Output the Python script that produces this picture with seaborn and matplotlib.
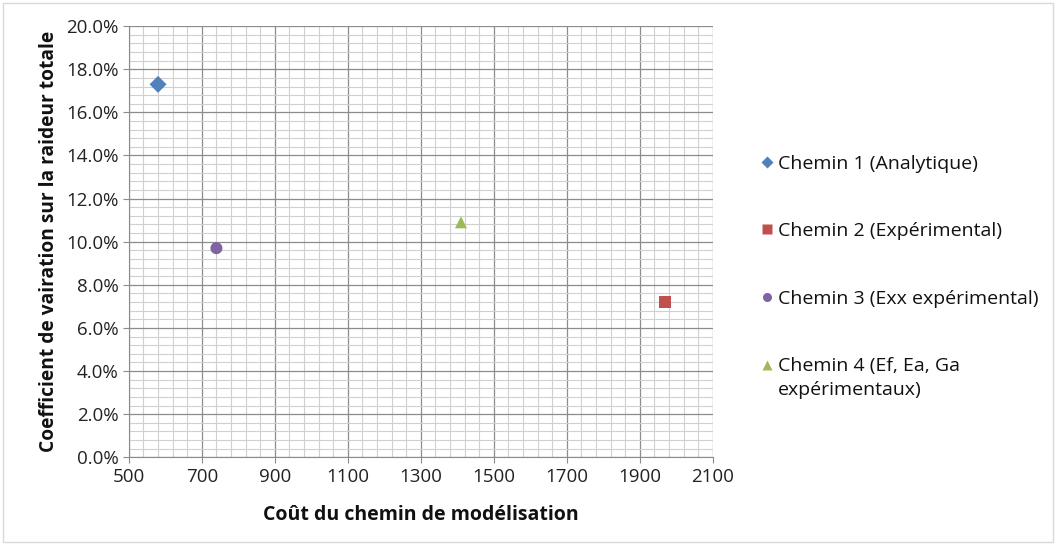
import numpy as np
import pandas as pd
import matplotlib
matplotlib.use("Agg")
import matplotlib.pyplot as plt
from matplotlib.ticker import FixedLocator, PercentFormatter
import seaborn as sns

labels = ["Chemin 1 (Analytique)", "Chemin 2 (Expérimental)",
          "Chemin 3 (Exx expérimental)", "Chemin 4 (Ef, Ea, Ga\nexpérimentaux)"]
cost = [580, 1970, 740, 1410]
cv = [17.3, 7.2, 9.7, 10.9]
colors = ["#4F81BD", "#C0504D", "#8064A2", "#9BBB59"]
markers = ["D", "s", "o", "^"]

df = pd.DataFrame({"chemin": labels, "cout": cost, "cv": cv})

sns.set_style("white")
plt.rcParams["font.family"] = ["Open Sans", "DejaVu Sans"]

fig = plt.figure(figsize=(10.56, 5.45), dpi=100)
ax = fig.add_axes([0.122, 0.161, 0.553, 0.791])

sns.scatterplot(data=df, x="cout", y="cv", hue="chemin", style="chemin",
                palette=dict(zip(labels, colors)), markers=dict(zip(labels, markers)),
                s=75, edgecolor="none", ax=ax, zorder=3)

ax.set_xlim(500, 2100)
ax.set_ylim(0, 20)
ax.xaxis.set_major_locator(FixedLocator(np.arange(500, 2101, 200)))
ax.xaxis.set_minor_locator(FixedLocator(np.arange(500, 2101, 40)))
ax.yaxis.set_major_locator(FixedLocator(np.arange(0, 20.1, 2)))
ax.yaxis.set_minor_locator(FixedLocator(np.arange(0, 20.1, 0.4)))
ax.yaxis.set_major_formatter(PercentFormatter(decimals=1))
ax.grid(True, which="major", color="#8c8c8c", linewidth=0.9)
ax.grid(True, which="minor", color="#d0d0d0", linewidth=0.8)
ax.set_axisbelow(True)
for side in ["top", "right"]:
    ax.spines[side].set_visible(False)
for side in ["left", "bottom"]:
    ax.spines[side].set_color("#8c8c8c")
ax.tick_params(axis="both", which="major", labelsize=13.5, colors="#222222",
               length=4, color="#8c8c8c", direction="out", bottom=True, left=True)
ax.tick_params(which="minor", length=0)

ax.set_xlabel("Coût du chemin de modélisation", fontsize=14, fontweight="bold",
              labelpad=14, color="#111111")
ax.set_ylabel("Coefficient de vairation sur la raideur totale", fontsize=13.8,
              fontweight="bold", labelpad=5, color="#111111")

handles, lbls = ax.get_legend_handles_labels()
for h in handles:
    h.set_markersize(6.5)
first_lines = [l.split("\n")[0] for l in lbls]
leg = ax.legend(handles, first_lines, loc="upper left", bbox_to_anchor=(1.065, 0.72),
                frameon=False, fontsize=14, labelspacing=2.55, handletextpad=0.1,
                handlelength=0.9, borderaxespad=0)

fig.canvas.draw()
renderer = fig.canvas.get_renderer()
inv = fig.transFigure.inverted()
for txt, full in zip(leg.get_texts(), lbls):
    parts = full.split("\n")
    if len(parts) > 1:
        bb = txt.get_window_extent(renderer)
        x0, y0 = inv.transform((bb.x0, bb.y0 - 6))
        fig.text(x0, y0, parts[1], fontsize=14, va="top", ha="left", color="#111111")
for t in leg.get_texts():
    t.set_color("#111111")

fig.patches.append(plt.Rectangle((0.003, 0.005), 0.994, 0.99, transform=fig.transFigure,
                                 fill=False, edgecolor="#d9d9d9", linewidth=1))

plt.savefig("out.png", dpi=100)
